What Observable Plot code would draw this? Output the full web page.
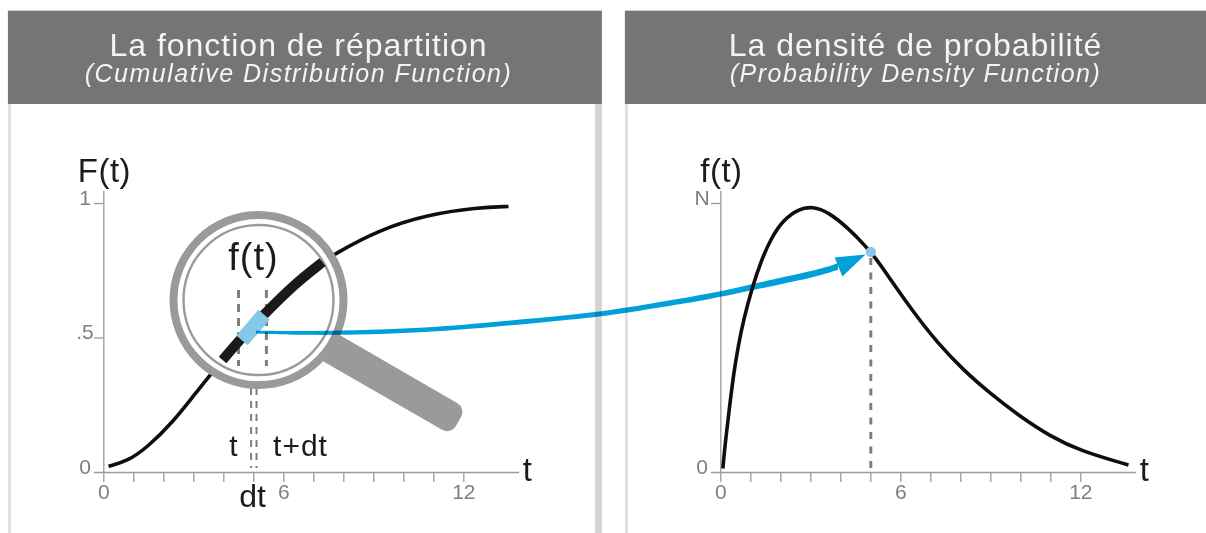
<!DOCTYPE html>
<html>
<head>
<meta charset="utf-8">
<script src="https://cdn.jsdelivr.net/npm/d3@7"></script>
<script src="https://cdn.jsdelivr.net/npm/@observablehq/plot@0.6"></script>
<style>
html,body{margin:0;padding:0;background:#fff}
svg{display:block}
</style>
</head>
<body>
<div id="chart"></div>
<script>
// ---- Data (values in chart units: t on x, probability on y) ----
const cdfT = [0.157,0.79,1.457,2.32,2.99,3.49,3.96,4.56,5.32,6.32,7.29,7.66,9.12,10.79,12.46,13.49];
const cdfF = [0.023,0.042,0.094,0.19,0.285,0.355,0.418,0.497,0.585,0.697,0.782,0.81,0.9,0.959,0.985,0.989];
const pdfT = [0.067,0.157,0.29,0.423,0.59,0.757,1.047,1.323,1.657,2.09,2.59,3.057,3.59,4.257,4.823,5.157,5.49,6.423,7.223,8.09,8.99,9.99,10.99,11.99,13.59];
const pdfF = [0.015,0.119,0.242,0.365,0.475,0.567,0.688,0.78,0.868,0.94,0.98,0.989,0.968,0.907,0.842,0.797,0.745,0.595,0.482,0.38,0.293,0.207,0.134,0.08,0.028];
const xTicks = [0,1,2,3,4,5,6,7,8,9,10,11,12];
const xTickLabels = [0,6,12];
const leftYTicks = [[1,"1"],[0.5,".5"],[0,"0"]];
const rightYTicks = [[1,"N"],[0,"0"]];
const titles = ["La fonction de répartition","La densité de probabilité"];
const subtitles = ["(Cumulative Distribution Function)","(Probability Density Function)"];
const yLabels = ["F(t)","f(t)"];

const lens = {t:5.157, y:0.641};
const zoomRange = [3.96,7.29];
const handleT = [11.623,11.443,7.4,7.58];
const handleY = [0.2256,0.1907,0.4506,0.486];
const segmentT = [4.607,5.34];
const segmentY = [0.491,0.587];
const arrowT = [5.09,6.557,8.323,10.557,12.79,16.457,17.89,20.39,21.62,23.72,24.49];
const arrowMid = [0.52,0.516,0.518,0.526,0.546,0.584,0.61,0.655,0.688,0.736,0.764];
const arrowHalf = [0.005,0.007,0.0085,0.0085,0.009,0.0095,0.0098,0.0105,0.0115,0.0125,0.0125];
const headT = [25.39,24.36,24.62];
const headY = [0.81,0.799,0.729];
const marker = {t:5, y:0.82};

// ---- Styles ----
const panelShift = 617;   // px offset of the right-hand panel
const FONT = '"Liberation Sans", Arial, sans-serif';
const GRAY = "#7f7f7f", AXIS = "#9a9a9a", HEAD = "#747675", INK = "#140c0a",
      LABEL = "#1c1c1c", LENS = "#999a99", BLUE = "#00a0d9", LIGHTBLUE = "#85c9ea";

const spaced = (ls) => (index, scales, values, dims, ctx, next) => {
  const g = next(index, scales, values, dims, ctx);
  g.style.letterSpacing = ls;
  return g;
};
const zip = (xs, ys) => xs.map((t,i) => ({t, y: ys[i]}));
const labelAt = (text, t, y, size, o = {}) => Plot.text([{text,t,y}], {
  x: "t", y: "y", text: "text", fontSize: size, fill: LABEL,
  lineAnchor: "bottom", textAnchor: "middle", ...o
});

const panel = (i) => {
  const dx = i * panelShift;
  return [
    Plot.rect([0], {x1: () => -3.18, x2: () => 16.62, y1: () => 1.715, y2: () => 1.368, fill: HEAD, dx}),
    Plot.rect([0], {x1: () => 16.39, x2: () => 16.62, y1: () => 1.368, y2: () => -0.3, fill: "#d4d4d4", dx}),
    Plot.rect([0], {x1: () => -3.18, x2: () => -3.08, y1: () => 1.368, y2: () => -0.3, fill: "#e0e0e0", dx}),
    labelAt(titles[i], 6.49, 1.55, 32, {fill: "#f4f4f4", dx, render: spaced("1px")}),
    labelAt(subtitles[i], 6.49, 1.45, 25, {fill: "#f4f4f4", fontStyle: "italic", dx, render: spaced("1.5px")}),
    // axes
    Plot.ruleY([0], {x1: () => -0.31, x2: () => 13.86, stroke: AXIS, strokeWidth: 1.5, dx}),
    Plot.ruleX([0], {y1: () => 0, y2: () => 1.045, stroke: AXIS, strokeWidth: 1.3, dx}),
    Plot.ruleY(i ? [1] : [1, 0.5], {x1: () => -0.31, x2: () => 0, stroke: AXIS, strokeWidth: 1.3, dx}),
    Plot.axisX(xTicks, {
      anchor: "bottom", tickSize: 10, tickPadding: 2, fontSize: 21, color: GRAY, stroke: AXIS,
      strokeWidth: 1.3, tickFormat: d => xTickLabels.includes(d) ? String(d) : "", label: null, dx
    }),
    Plot.text(i ? rightYTicks : leftYTicks, {
      x: () => -0.627, y: d => d[0], text: d => d[1], fontSize: 21, fill: GRAY,
      lineAnchor: "bottom", textAnchor: "middle", dy: 1, dx
    }),
    labelAt("t", 14.12, -0.03, 33, {dx}),
    labelAt(yLabels[i], 0.02, 1.08, 33, {dx, render: spaced("0.5px")})
  ];
};

const chart = Plot.plot({
  width: 1206, height: 533,
  marginTop: 0, marginRight: 0, marginBottom: 61, marginLeft: 0,
  style: {fontFamily: FONT, background: "#fff", overflow: "hidden"},
  x: {domain: [0,12], range: [103.3,463.3]},
  y: {domain: [0,1], range: [472,203], axis: null},
  marks: [
    ...panel(0), ...panel(1),

    // curves
    Plot.line(zip(cdfT,cdfF), {x:"t", y:"y", stroke: INK, strokeWidth: 3.6, strokeLinecap: "butt", curve: "basis"}),
    Plot.line(zip(pdfT,pdfF), {x:"t", y:"y", stroke: INK, strokeWidth: 3.6, strokeLinecap: "butt", curve: "basis", dx: panelShift}),

    // dashed guides
    Plot.ruleX([4.91,5.09], {y1: () => 0.312, y2: () => 0.015, stroke: GRAY, strokeWidth: 2, strokeDasharray: "7,6", strokeLinecap: "butt"}),
    Plot.ruleX([marker.t], {y1: () => 0.796, y2: () => 0.015, stroke: GRAY, strokeWidth: 3, strokeDasharray: "7,7.5", strokeLinecap: "butt", dx: panelShift}),

    // magnifier
    Plot.line(zip(handleT,handleY), {x:"t", y:"y", fill: LENS, stroke: LENS, strokeWidth: 20, strokeLinejoin: "round", curve: "linear-closed"}),
    Plot.dot([lens], {x:"t", y:"y", r: 85, fill: "#fff", stroke: LENS, strokeWidth: 8}),
    Plot.dot([lens], {x:"t", y:"y", r: 75, fill: "none", stroke: LENS, strokeWidth: 2.4}),
    Plot.ruleX([4.49,5.42], {y1: () => 0.677, y2: () => 0.394, stroke: GRAY, strokeWidth: 3, strokeDasharray: "8,6", strokeLinecap: "butt"}),
    Plot.line(zip(cdfT,cdfF).filter(d => d.t >= zoomRange[0] && d.t <= zoomRange[1]), {x:"t", y:"y", stroke: "#1a1a1a", strokeWidth: 10, strokeLinecap: "butt", curve: "basis"}),
    Plot.line(zip(segmentT,segmentY), {x:"t", y:"y", stroke: LIGHTBLUE, strokeWidth: 15, strokeLinecap: "butt"}),

    // labels
    labelAt("f(t)", 4.99, 0.751, 38, {render: spaced("1px")}),
    labelAt("t", 4.32, 0.063, 30),
    labelAt("t+dt", 6.557, 0.063, 30, {render: spaced("1px")}),
    labelAt("dt", 4.96, -0.13, 32),

    // arrow from the left panel to the density curve
    Plot.areaY(arrowT.map((t,i) => ({t, y1: arrowMid[i]-arrowHalf[i], y2: arrowMid[i]+arrowHalf[i]})), {
      x:"t", y1:"y1", y2:"y2", fill: BLUE, curve: "basis", mixBlendMode: "multiply"
    }),
    Plot.line(zip(headT,headY), {x:"t", y:"y", fill: BLUE, stroke: "none", curve: "linear-closed"}),
    Plot.dot([marker], {x:"t", y:"y", r: 5.2, fill: LIGHTBLUE, dx: panelShift})
  ]
});
document.getElementById("chart").append(chart);
</script>
</body>
</html>
